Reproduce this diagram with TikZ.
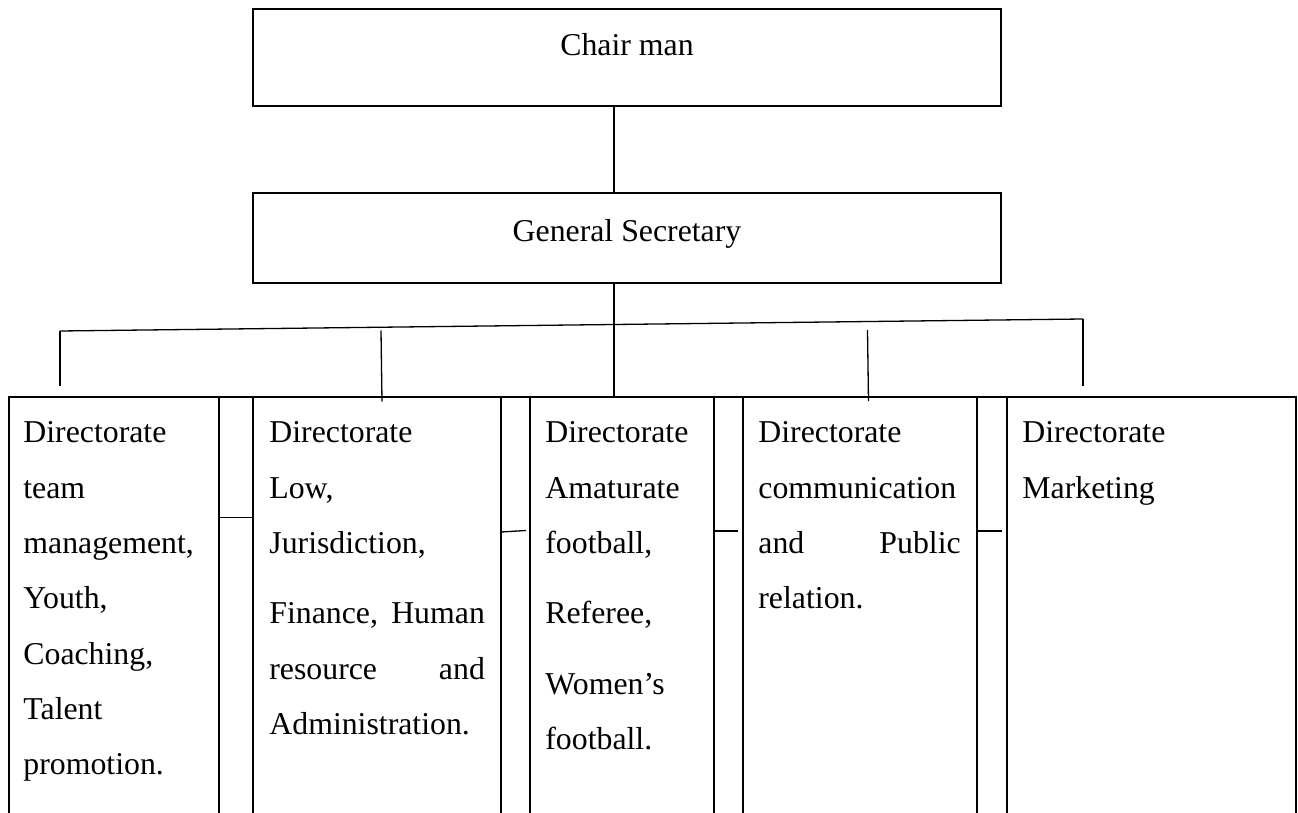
\documentclass[tikz,border=0pt]{standalone}
\usepackage{fontspec}
\setmainfont{Liberation Serif}
\begin{document}
\begin{tikzpicture}[x=0.5pt,y=-0.5pt,
  box/.style={draw, line width=1pt, rectangle, inner sep=0pt, outer sep=0pt},
  conn/.style={line width=0.65pt},
  txt/.style={inner sep=0pt, font=\fontsize{15.9pt}{27.65pt}\selectfont},
]
\useasboundingbox (0,0) rectangle (1298,813);
\clip (0,0) rectangle (1298,813);
% top boxes
\node[box, minimum width=374pt, minimum height=48.5pt] (chair) at (627,57.5) {};
\node[txt, anchor=base] (chairT) at (627,56) {Chair man};
\node[box, minimum width=374pt, minimum height=45pt] (gs) at (627,238) {};
\node[txt, anchor=base] (gsT) at (627,241.5) {General Secretary};
% lower columns
\node[box, minimum width=105pt, minimum height=221.5pt] (d1) at (114,618.5) {};
\node[box, minimum width=17pt, minimum height=221.5pt] (g1) at (236,618.5) {};
\node[box, minimum width=124pt, minimum height=221.5pt] (d2) at (377,618.5) {};
\node[box, minimum width=14.5pt, minimum height=221.5pt] (g2) at (515.5,618.5) {};
\node[box, minimum width=92pt, minimum height=221.5pt] (d3) at (622,618.5) {};
\node[box, minimum width=14.5pt, minimum height=221.5pt] (g3) at (728.5,618.5) {};
\node[box, minimum width=117pt, minimum height=221.5pt] (d4) at (860,618.5) {};
\node[box, minimum width=15pt, minimum height=221.5pt] (g4) at (992,618.5) {};
\node[box, minimum width=144.5pt, minimum height=221.5pt] (d5) at (1151.5,618.5) {};
% column texts
\node[txt, anchor=base west] (t1) at (23,443) {\vtop{\baselineskip=27.65pt
  \hbox{Directorate}\hbox{team}\hbox{management,}\hbox{Youth,}\hbox{Coaching,}\hbox{Talent}\hbox{promotion.}}};
\node[txt, anchor=base west] (t2) at (269,443) {\vtop{\baselineskip=27.65pt
  \hbox{Directorate}\hbox{Low,}\hbox{Jurisdiction,}\vskip7.5pt
  \hbox to 107.75pt{Finance,\hfill Human}\hbox to 107.75pt{resource\hfill and}\hbox{Administration.}}};
\node[txt, anchor=base west] (t3) at (545,443) {\vtop{\baselineskip=27.65pt
  \hbox{Directorate}\hbox{Amaturate}\hbox{football,}\vskip7.5pt
  \hbox{Referee,}\vskip7.5pt\hbox{Women’s}\hbox{football.}}};
\node[txt, anchor=base west] (t4) at (758,443) {\vtop{\baselineskip=27.65pt
  \hbox{Directorate}\hbox{communication}\hbox to 101.15pt{and\hfill Public}\hbox{relation.}}};
\node[txt, anchor=base west] (t5) at (1022,443) {\vtop{\baselineskip=27.65pt
  \hbox{Directorate}\hbox{Marketing}}};
% connectors
\coordinate (s) at (614,0);
\draw[conn] (chair.south -| s) -- (gs.north -| s);
\draw[conn] (gs.south -| s) -- (d3.north -| s);
\coordinate (bl) at (60,331);
\coordinate (br) at (1083,319);
\draw[conn] (bl) -- (br);
\coordinate (bl2) at (60,386);
\draw[conn] (bl) -- (bl2);
\coordinate (br2) at (1083,386);
\draw[conn] (br) -- (br2);
\coordinate (m2) at (381,330.5);
\coordinate (m2b) at (382,401.5);
\draw[conn] (m2) -- (m2b);
\coordinate (m4) at (867.5,330);
\coordinate (m4b) at (868.5,401);
\draw[conn] (m4) -- (m4b);
% gap connectors
\coordinate (g1a) at (219,517.5);
\coordinate (g1b) at (253,517.5);
\draw[conn] (g1a) -- (g1b);
\coordinate (g2a) at (501,532);
\coordinate (g2b) at (526,530.5);
\draw[conn] (g2a) -- (g2b);
\coordinate (g3a) at (713.5,531);
\coordinate (g3b) at (738,531);
\draw[conn] (g3a) -- (g3b);
\coordinate (g4a) at (978,531);
\coordinate (g4b) at (1002,531);
\draw[conn] (g4a) -- (g4b);
\end{tikzpicture}
\end{document}
